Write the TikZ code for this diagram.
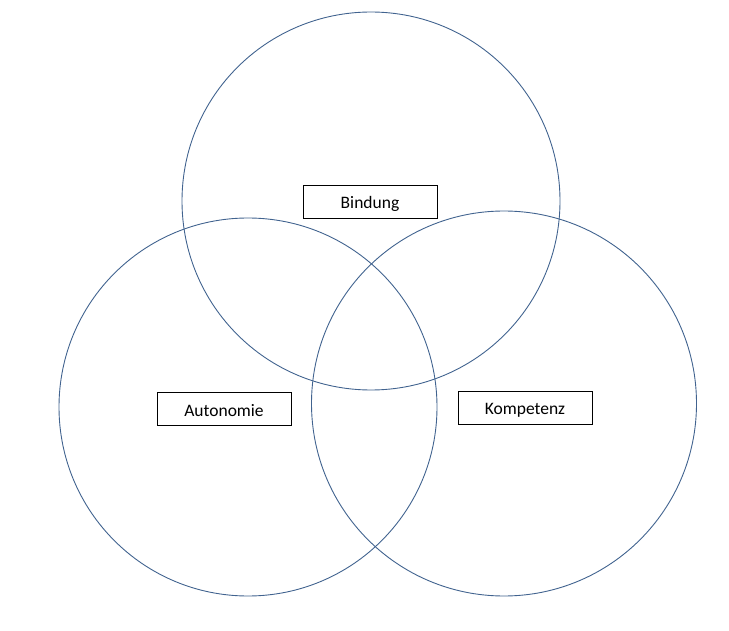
\documentclass[tikz,border=0pt]{standalone}
\usepackage{fontspec}
\setmainfont{Carlito}
\definecolor{ring}{HTML}{41638F}
\newcommand{\boxtext}[1]{\raisebox{-2pt}[\height][\depth]{#1}}
\begin{document}
\begin{tikzpicture}[x=1pt,y=-1pt,
  ringstyle/.style={draw=ring,line width=0.9pt},
  labelbox/.style={draw=black,fill=white,line width=0.8pt,minimum width=134pt,minimum height=33pt,inner sep=0pt,font=\fontsize{17.5}{19}\selectfont}]
\useasboundingbox (0,0) rectangle (729,631);
\draw[ringstyle] (371,201) circle (189);
\draw[ringstyle] (248,407) circle (189);
\draw[ringstyle] (504,403.5) circle (192.5);
\node[labelbox] (bindung) at (370,201.5) {\boxtext{Bindung}};
\node[labelbox] (autonomie) at (224,408.5) {\boxtext{Autonomie}};
\node[labelbox] (kompetenz) at (525,408) {\boxtext{Kompetenz}};
\end{tikzpicture}
\end{document}
